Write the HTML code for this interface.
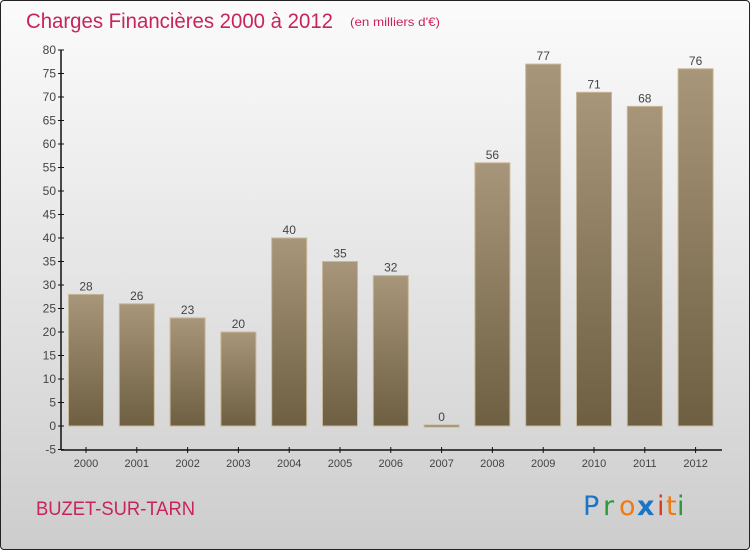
<!DOCTYPE html>
<html><head><meta charset="utf-8"><style>
html,body{margin:0;padding:0}
body{width:750px;height:550px;overflow:hidden;font-family:"Liberation Sans","DejaVu Sans",sans-serif}
#frame{position:absolute;left:0;top:0;width:748px;height:548px;border:1px solid #222;border-radius:4px;background:linear-gradient(#fbfbfb,#f0f0f0 25%,#e0e0e0 60%,#cdcdcd)}
</style></head><body>
<div id="frame"></div>
<svg id="chart" width="750" height="550" style="position:absolute;left:0;top:0">
<defs><linearGradient id="bg" x1="0" y1="0" x2="0" y2="1"><stop offset="0" stop-color="#a8967a"/><stop offset="1" stop-color="#6e5f42"/></linearGradient></defs>
<text x="26" y="28" font-size="21" fill="#c8245a" textLength="307" lengthAdjust="spacingAndGlyphs">Charges Financières 2000 à 2012</text>
<text x="350" y="26" font-size="12" fill="#c8245a" textLength="90" lengthAdjust="spacingAndGlyphs">(en milliers d'€)</text>
<text x="36" y="515" font-size="19" fill="#c8245a" textLength="159" lengthAdjust="spacingAndGlyphs">BUZET-SUR-TARN</text>
<g font-size="27" font-family="'DejaVu Sans',sans-serif">
<text x="583" y="515" fill="#1a74c8">P</text><text x="603" y="515" fill="#2a9a3a">r</text><text x="619" y="515" fill="#f07a10">o</text><text x="637" y="515" fill="#1a74c8" font-weight="bold">x</text><text x="657" y="515" fill="#e03a1a">i</text><text x="666" y="515" fill="#f07a10">t</text><text x="677" y="515" fill="#2a9a3a">i</text></g>
<g id="axes"></g><g id="bars"></g>
</svg>
<script>
const years=["2000","2001","2002","2003","2004","2005","2006","2007","2008","2009","2010","2011","2012"];
const values=[28,26,23,20,40,35,32,0,56,77,71,68,76];
const yTicks=[-5,0,5,10,15,20,25,30,35,40,45,50,55,60,65,70,75,80];
const NS="http://www.w3.org/2000/svg";
const y=v=>426-v*4.7, x=i=>86+i*50.8;
function mk(t,a,p){const e=document.createElementNS(NS,t);for(const k in a)e.setAttribute(k,a[k]);p.appendChild(e);return e;}
const ax=document.getElementById('axes'),bs=document.getElementById('bars');
const yl=mk('line',{x1:61,y1:50,x2:61,y2:450,stroke:'#111','stroke-width':1.5},ax);


const xl=mk('line',{x1:61,y1:450,x2:722,y2:450,stroke:'#111','stroke-width':1.5},ax);


yTicks.forEach(t=>{mk('line',{x1:58,x2:64,y1:y(t),y2:y(t),stroke:'#111'},ax);
const tx=mk('text',{x:56,y:y(t)+4,'text-anchor':'end','font-size':12,fill:'#444'},ax);tx.textContent=t;

});
years.forEach((yr,i)=>{mk('line',{x1:x(i),x2:x(i),y1:447,y2:453,stroke:'#111'},ax);
const tx=mk('text',{x:x(i),y:467,'text-anchor':'middle','font-size':11,fill:'#444'},ax);tx.textContent=yr;


const v=values[i],top=y(v),h=Math.max(426-top,1.5);
const r=mk('rect',{x:x(i)-17.5,y:v>0?top:425,width:35,height:v>0?h:2,fill:'url(#bg)',stroke:'#c8b898','stroke-width':1},bs);


const lb=mk('text',{x:x(i),y:(v>0?top:425)-4,'text-anchor':'middle','font-size':12,fill:'#444'},bs);lb.textContent=v;

});
</script>
</body></html>
